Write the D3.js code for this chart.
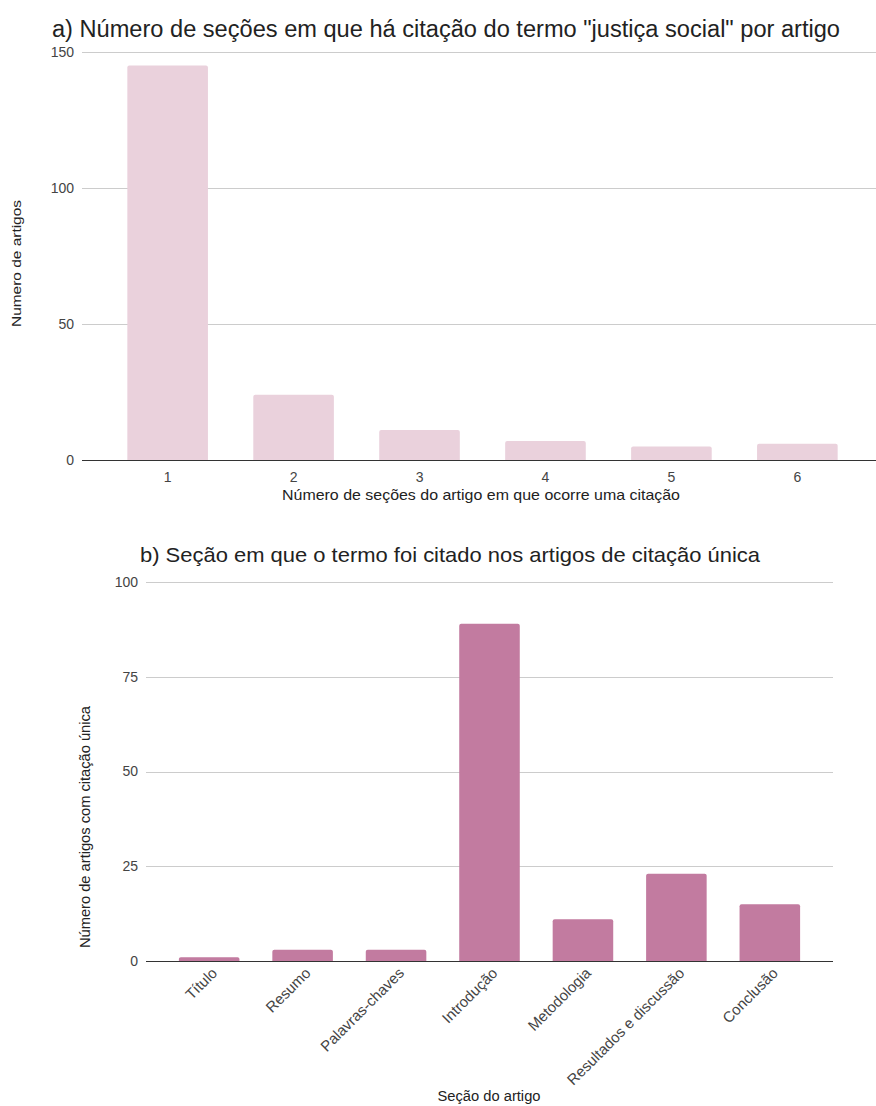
<!DOCTYPE html>
<html>
<head>
<meta charset="utf-8">
<script src="https://cdn.jsdelivr.net/npm/d3@7"></script>
<style>
  html, body { margin: 0; padding: 0; background: #fff; }
  svg { display: block; font-family: "Liberation Sans", Arial, sans-serif; }
</style>
</head>
<body>
<svg id="chart" width="876" height="1106"></svg>
<script>
// ---- Data ----
const titleA = 'a) Número de seções em que há citação do termo "justiça social" por artigo';
const categoriesA = ["1", "2", "3", "4", "5", "6"];
const valuesA = [145, 24, 11, 7, 5, 6];
const yTicksA = [0, 50, 100, 150];
const xTitleA = "Número de seções do artigo em que ocorre uma citação";
const yTitleA = "Numero de artigos";

const titleB = "b) Seção em que o termo foi citado nos artigos de citação única";
const categoriesB = ["Título", "Resumo", "Palavras-chaves", "Introdução", "Metodologia", "Resultados e discussão", "Conclusão"];
const valuesB = [1, 3, 3, 89, 11, 23, 15];
const yTicksB = [0, 25, 50, 75, 100];
const xTitleB = "Seção do artigo";
const yTitleB = "Número de artigos com citação única";

const svg = d3.select("#chart");

function drawChart(cfg) {
  const g = svg.append("g");
  const x = d3.scaleBand().domain(cfg.categories).range([cfg.left, cfg.right])
    .paddingInner(cfg.pad).paddingOuter(cfg.pad);
  const y = d3.scaleLinear().domain([0, d3.max(cfg.yTicks)]).range([cfg.bottom, cfg.top]);

  // gridlines
  g.append("g").selectAll("line").data(cfg.yTicks.filter(d => d !== 0)).join("line")
    .attr("x1", cfg.left).attr("x2", cfg.right)
    .attr("y1", d => Math.round(y(d)) + 0.5).attr("y2", d => Math.round(y(d)) + 0.5)
    .attr("stroke", "#cccccc").attr("stroke-width", 1);

  // y tick labels
  g.append("g").selectAll("text").data(cfg.yTicks).join("text")
    .attr("x", cfg.left - 8).attr("y", d => y(d))
    .attr("dy", "0.35em").attr("text-anchor", "end")
    .attr("font-size", 14).attr("fill", "#444")
    .text(d => d);

  // bars
  g.append("g").selectAll("path").data(cfg.values).join("path")
    .attr("fill", cfg.color)
    .attr("d", (d, i) => {
      const x0 = x(cfg.categories[i]), w = x.bandwidth();
      const y0 = y(d), yb = y(0), r = Math.min(2, (yb - y0) / 2);
      return `M${x0},${yb}V${y0 + r}Q${x0},${y0} ${x0 + r},${y0}H${x0 + w - r}Q${x0 + w},${y0} ${x0 + w},${y0 + r}V${yb}Z`;
    });

  // baseline
  g.append("line")
    .attr("x1", cfg.left).attr("x2", cfg.right)
    .attr("y1", Math.round(y(0)) + 0.5).attr("y2", Math.round(y(0)) + 0.5)
    .attr("stroke", "#333").attr("stroke-width", 1.2);

  // x labels
  const xl = g.append("g").selectAll("text").data(cfg.categories).join("text")
    .attr("font-size", cfg.xFont).attr("fill", "#444")
    .text(d => d);
  if (cfg.rotate) {
    xl.attr("text-anchor", "end")
      .attr("transform", d => `translate(${x(d) + x.bandwidth() / 2 + 9},${cfg.bottom + 13}) rotate(-45)`);
  } else {
    xl.attr("text-anchor", "middle")
      .attr("x", d => x(d) + x.bandwidth() / 2).attr("y", cfg.bottom + 22);
  }

  // title
  g.append("text").attr("x", cfg.titleX).attr("y", cfg.titleY)
    .attr("font-size", cfg.titleFont).attr("fill", "#222")
    .attr("textLength", cfg.titleLen).attr("lengthAdjust", "spacingAndGlyphs")
    .text(cfg.title);

  // x title
  g.append("text").attr("x", cfg.xTitleX).attr("y", cfg.xTitleY)
    .attr("text-anchor", "middle").attr("font-size", cfg.xTitleFont).attr("fill", "#222")
    .attr("textLength", cfg.xTitleLen).attr("lengthAdjust", "spacingAndGlyphs")
    .text(cfg.xTitle);

  // y title
  g.append("text")
    .attr("transform", `translate(${cfg.yTitleX},${cfg.yTitleY}) rotate(-90)`)
    .attr("text-anchor", "start").attr("font-size", cfg.yTitleFont).attr("fill", "#222")
    .attr("textLength", cfg.yTitleLen).attr("lengthAdjust", "spacingAndGlyphs")
    .text(cfg.yTitle);
}

drawChart({
  categories: categoriesA, values: valuesA, yTicks: yTicksA,
  left: 82, right: 883, top: 52, bottom: 460, pad: 0.36,
  color: "#ead1dc", xFont: 14, rotate: false,
  title: titleA, titleX: 52, titleY: 37, titleFont: 23, titleLen: 788,
  xTitle: xTitleA, xTitleX: 481, xTitleY: 500, xTitleFont: 15, xTitleLen: 398,
  yTitle: yTitleA, yTitleX: 21, yTitleY: 327, yTitleFont: 13, yTitleLen: 127
});

drawChart({
  categories: categoriesB, values: valuesB, yTicks: yTicksB,
  left: 146, right: 833, top: 582, bottom: 961, pad: 0.352,
  color: "#c27ba0", xFont: 15, rotate: true,
  title: titleB, titleX: 140, titleY: 562, titleFont: 21, titleLen: 620,
  xTitle: xTitleB, xTitleX: 489, xTitleY: 1101, xTitleFont: 14, xTitleLen: 103,
  yTitle: yTitleB, yTitleX: 90, yTitleY: 948, yTitleFont: 14, yTitleLen: 242
});
</script>
</body>
</html>
